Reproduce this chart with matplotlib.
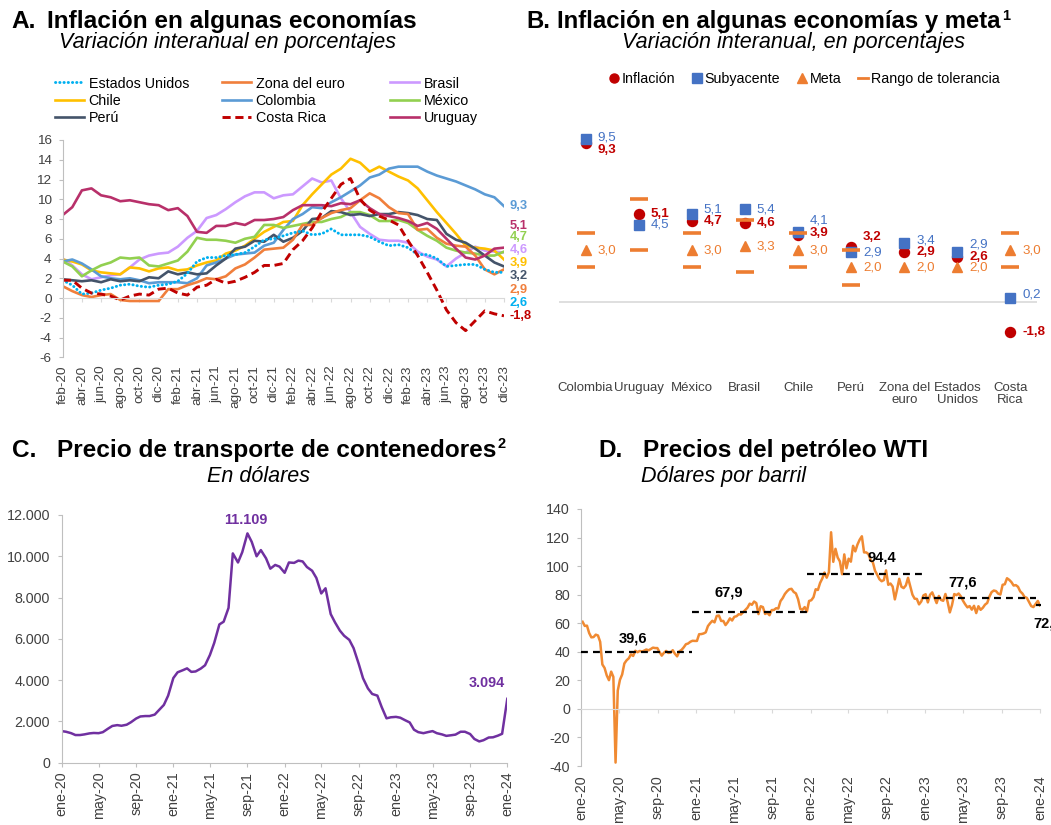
import numpy as np
import pandas as pd
import matplotlib
matplotlib.use('Agg')
import matplotlib.pyplot as plt
import matplotlib.transforms as mtransforms
from matplotlib.lines import Line2D
from decimal import Decimal, ROUND_HALF_UP

plt.rcParams['font.family'] = ['Liberation Sans', 'DejaVu Sans']
plt.rcParams['axes.unicode_minus'] = False

# ------------------------------------------------------------------ data
meses = ['ene', 'feb', 'mar', 'abr', 'may', 'jun', 'jul', 'ago', 'sep', 'oct', 'nov', 'dic']

# Panel A: monthly, feb-20 .. dic-23
a_start, a_end = '2020-02', '2023-12'
estados_unidos = [1.8, 1.3, 0.4, 0.5, 0.8, 1.0, 1.3, 1.4, 1.2, 1.1, 1.3,
                  1.4, 1.7, 2.5, 3.7, 4.1, 4.1, 4.3, 4.4, 4.6, 5.2, 5.9, 6.0,
                  6.3, 6.6, 6.8, 6.4, 6.5, 7.0, 6.4, 6.4, 6.4, 6.2, 5.7, 5.3,
                  5.4, 5.1, 4.4, 4.4, 4.0, 3.2, 3.3, 3.4, 3.4, 2.9, 2.6, 2.6]
zona_euro = [1.2, 0.7, 0.3, 0.1, 0.3, 0.4, -0.2, -0.3, -0.3, -0.3, -0.3,
             0.9, 0.9, 1.3, 1.6, 2.0, 1.9, 2.2, 3.0, 3.4, 4.1, 4.9, 5.0,
             5.1, 5.9, 7.4, 7.4, 8.1, 8.6, 8.9, 9.1, 9.9, 10.6, 10.1, 9.2,
             8.6, 8.5, 6.9, 7.0, 6.1, 5.5, 5.3, 5.2, 4.3, 2.9, 2.4, 2.9]
brasil = [4.0, 3.3, 2.4, 1.9, 2.1, 2.3, 2.4, 3.1, 3.9, 4.3, 4.5,
          4.6, 5.2, 6.1, 6.8, 8.1, 8.4, 9.0, 9.7, 10.3, 10.7, 10.7, 10.1,
          10.4, 10.5, 11.3, 12.1, 11.7, 11.9, 10.1, 8.7, 7.2, 6.5, 5.9, 5.8,
          5.8, 5.6, 4.7, 4.2, 3.9, 3.2, 4.0, 4.6, 5.2, 4.8, 4.7, 4.6]
chile = [3.9, 3.7, 3.4, 2.8, 2.6, 2.5, 2.4, 3.1, 3.0, 2.7, 3.0,
         3.1, 2.8, 2.9, 3.3, 3.6, 3.8, 4.5, 4.8, 5.3, 6.0, 6.7, 7.2,
         7.7, 7.8, 9.4, 10.5, 11.5, 12.5, 13.1, 14.1, 13.7, 12.8, 13.3, 12.8,
         12.3, 11.9, 11.1, 9.9, 8.7, 7.6, 6.5, 5.3, 5.1, 5.0, 4.8, 3.9]
colombia = [3.7, 3.9, 3.5, 2.9, 2.2, 2.0, 1.9, 2.0, 1.8, 1.5, 1.6,
            1.6, 1.6, 1.5, 2.0, 3.3, 3.6, 4.0, 4.4, 4.5, 4.6, 5.3, 5.6,
            6.9, 8.0, 8.5, 9.2, 9.1, 9.7, 10.2, 10.8, 11.4, 12.2, 12.5, 13.1,
            13.3, 13.3, 13.3, 12.8, 12.4, 12.1, 11.8, 11.4, 11.0, 10.5, 10.2, 9.3]
mexico = [3.7, 3.2, 2.2, 2.8, 3.3, 3.6, 4.1, 4.0, 4.1, 3.3, 3.2,
          3.5, 3.8, 4.7, 6.1, 5.9, 5.9, 5.8, 5.6, 6.0, 6.2, 7.4, 7.4,
          7.1, 7.3, 7.5, 7.7, 7.7, 8.0, 8.2, 8.7, 8.7, 8.4, 7.8, 7.8,
          7.9, 7.6, 6.9, 6.3, 5.8, 5.1, 4.8, 4.6, 4.5, 4.3, 4.3, 4.7]
peru = [1.9, 1.8, 1.7, 1.8, 1.6, 1.9, 1.7, 1.8, 1.7, 2.1, 2.0,
        2.7, 2.4, 2.6, 2.4, 2.5, 3.3, 4.0, 5.0, 5.2, 5.8, 5.7, 6.4,
        5.7, 6.1, 6.8, 8.0, 8.1, 8.8, 8.7, 8.4, 8.5, 8.3, 8.5, 8.5,
        8.7, 8.6, 8.4, 8.0, 7.9, 6.5, 5.9, 5.6, 5.0, 4.3, 3.6, 3.2]
costa_rica = [1.8, 1.8, 1.0, 0.5, 0.4, 0.2, -0.2, 0.2, 0.4, 0.3, 0.9,
              1.0, 0.5, 0.3, 1.1, 1.3, 1.9, 1.5, 1.7, 2.1, 2.6, 3.3, 3.3,
              3.5, 4.9, 5.8, 7.1, 8.7, 10.1, 11.5, 12.1, 10.0, 8.9, 8.3, 7.9,
              7.4, 5.8, 4.3, 2.6, 0.8, -1.2, -2.5, -3.3, -2.3, -1.3, -1.6, -1.8]
uruguay = [8.4, 9.2, 10.9, 11.1, 10.4, 10.2, 9.8, 9.9, 9.7, 9.5, 9.4,
           8.9, 9.1, 8.3, 6.7, 6.6, 7.3, 7.3, 7.6, 7.4, 7.9, 7.9, 8.0,
           8.2, 8.9, 9.4, 9.4, 9.4, 9.3, 9.6, 9.5, 9.9, 9.1, 8.5, 8.3,
           8.1, 7.8, 7.3, 7.6, 7.0, 6.0, 5.0, 4.1, 3.9, 4.3, 5.0, 5.1]

# Panel B
b_paises = ['Colombia', 'Uruguay', 'México', 'Brasil', 'Chile', 'Perú',
            'Zona del\neuro', 'Estados\nUnidos', 'Costa\nRica']
b_inflacion = [9.3, 5.1, 4.7, 4.6, 3.9, 3.2, 2.9, 2.6, -1.8]
b_subyacente = [9.5, 4.5, 5.1, 5.4, 4.1, 2.9, 3.4, 2.9, 0.2]
b_meta = [3.0, np.nan, 3.0, 3.25, 3.0, 2.0, 2.0, 2.0, 3.0]
b_rango_inf = [2.0, 3.0, 2.0, 1.75, 2.0, 1.0, np.nan, np.nan, 2.0]
b_rango_sup = [4.0, 6.0, 4.0, 4.75, 4.0, 3.0, np.nan, np.nan, 4.0]

# Panel C: container freight rate, semi-monthly, ene-20 .. ene-24
c_start, c_end = '2020-01-01', '2024-01-01'
c_precio = [1530, 1500, 1430, 1340, 1340, 1370, 1420, 1440, 1430, 1480,
            1650, 1780, 1820, 1790, 1840, 1960, 2140, 2240, 2260, 2260,
            2330, 2550, 2800, 3250, 4100, 4380, 4480, 4570, 4400, 4420,
            4560, 4720, 5220, 5800, 6700, 6830, 7500, 10140, 9700, 10200,
            11109, 10700, 10000, 10300, 9900, 9400, 9580, 9500, 9200, 9700,
            9680, 9790, 9750, 9480, 9300, 8950, 8200, 8450, 7200, 6800,
            6400, 6150, 5950, 5550, 4780, 4090, 3600, 3330, 3250, 2700,
            2150, 2200, 2220, 2180, 2050, 1950, 1600, 1480, 1430, 1480,
            1530, 1430, 1370, 1300, 1330, 1360, 1500, 1500, 1390, 1150,
            1030, 1090, 1220, 1230, 1310, 1400, 3094]

# Panel D: WTI, weekly (Mondays) from 2020-01-06
d_start = '2020-01-06'
wti = [61.0, 58.1, 58.3, 53.1,
       50.1, 50.3, 52.0, 51.4,
       47.0, 31.1, 28.7, 23.4, 20.1,
       26.1, 22.4, -37.6, 12.8,
       20.4, 24.1, 31.8, 34.0,
       35.4, 38.2, 37.1, 40.7, 39.7,
       40.6, 40.1, 40.8, 41.6,
       41.0, 41.9, 42.9, 42.6, 42.6,
       39.8, 37.3, 39.3, 40.6,
       39.2, 39.4, 41.1, 38.6,
       36.8, 40.3, 41.3, 43.1, 45.3,
       45.8, 47.0, 47.7, 47.6,
       # 2021
       47.6, 52.3, 52.4, 52.8,
       53.6, 58.0, 60.0, 61.7,
       60.6, 65.1, 65.4, 61.6, 61.6,
       58.7, 60.7, 63.4, 61.9,
       64.5, 64.9, 66.3, 66.1, 67.7,
       69.2, 70.9, 73.7, 72.9,
       75.2, 74.1, 66.4, 71.9,
       71.3, 66.5, 67.3, 65.6, 69.2,
       69.3, 70.5, 70.3, 75.5,
       77.6, 80.5, 82.4, 83.8,
       84.1, 81.9, 80.9, 76.8, 70.0,
       69.5, 71.3, 68.2, 75.6,
       # 2022
       76.1, 78.2, 83.8, 83.3, 88.2,
       91.3, 95.5, 91.9, 95.7,
       123.7, 103.0, 112.1, 106.0,
       103.3, 94.3, 108.2, 98.5,
       105.2, 103.1, 114.2, 110.3, 115.1,
       118.5, 120.9, 109.6, 109.6,
       108.4, 104.1, 102.6, 96.7,
       93.9, 90.8, 89.4, 90.2, 97.0,
       86.9, 87.8, 85.7, 76.7,
       83.6, 91.1, 85.5, 84.6, 86.5,
       91.8, 85.9, 80.0, 77.2,
       77.0, 73.2, 75.2, 79.5,
       # 2023
       80.3, 74.6, 79.9, 81.6, 77.9,
       74.1, 79.1, 76.3, 75.7,
       80.5, 74.8, 67.6, 72.8,
       80.4, 79.7, 80.8, 78.8,
       75.7, 73.2, 71.1, 72.0, 69.5,
       72.2, 67.1, 71.9, 69.4,
       70.8, 73.0, 74.2, 78.7, 81.8,
       82.9, 82.5, 80.7, 80.1,
       86.9, 87.3, 91.5, 90.4,
       88.8, 86.4, 86.7, 85.5, 82.3,
       80.8, 78.3, 77.8, 74.9,
       72.0, 71.3, 73.4, 75.6,
       # 2024
       72.5]
d_anios = [2020, 2021, 2022, 2023, 2024]
d_promedio = [39.6, 67.9, 94.4, 77.6, 72.7]

# ------------------------------------------------------------------ style
W, H, DPI = 1051, 825, 100
TICK_C = '#404040'
SPINE_C = '#BFBFBF'
ZERO_C = '#D9D9D9'
SUB_FS = 15.5

C_US = '#00B0F0'
C_EZ = '#F07F3C'
C_BR = '#CC99FF'
C_CL = '#FFC000'
C_CO = '#5B9BD5'
C_MX = '#92D050'
C_PE = '#44546A'
C_CR = '#C00000'
C_UY = '#B8306A'
C_RED = '#C00000'
C_BLUE = '#4472C4'
C_ORANGE = '#ED7D31'
C_PURPLE = '#7030A0'
C_WTI = '#F08A32'

US_LS = (0, (0.1, 1.35))
CR_LS = (0, (2.8, 1.6))

fig = plt.figure(figsize=(W / DPI, H / DPI), dpi=DPI)
renderer = fig.canvas.get_renderer()


def px_axes(l, t, r, b):
    return fig.add_axes([l / W, 1 - b / H, (r - l) / W, (b - t) / H])


def ftext(x, y, s, **kw):
    return fig.text(x / W, 1 - y / H, s, **kw)


def fmt1(v):
    d = Decimal(str(v)).quantize(Decimal('0.1'), rounding=ROUND_HALF_UP)
    return str(d).replace('.', ',')


def mes_label(ts):
    return f"{meses[ts.month - 1]}-{ts.year % 100:02d}"


# ------------------------------------------------------------------ titles
for (lx, tx, base, fs, letter, title, sup, sx, sbase, sub) in [
        (11, 47, 28.3, 17.6, 'A.', 'Inflación en algunas economías', '', 59.3, 48.3,
         'Variación interanual en porcentajes'),
        (526, 557, 28.3, 17.2, 'B.', 'Inflación en algunas economías y meta', '1', 622, 48.3,
         'Variación interanual, en porcentajes'),
        (11.7, 56.7, 456.7, 17.6, 'C.', 'Precio de transporte de contenedores', '2', 207.3, 481.7,
         'En dólares'),
        (598.3, 643.3, 456.7, 17.6, 'D.', 'Precios del petróleo WTI', '', 641, 481.7,
         'Dólares por barril')]:
    ftext(lx, base, letter, fontsize=fs, weight='bold', va='baseline')
    t = ftext(tx, base, title, fontsize=fs, weight='bold', va='baseline')
    if sup:
        bb = t.get_window_extent(renderer=renderer)
        ftext(bb.x1 + 1.5, base - 8.5, sup, fontsize=10.5, weight='bold', va='baseline')
    ftext(sx, sbase, sub, fontsize=SUB_FS, style='italic', va='baseline')

# ------------------------------------------------------------------ panel A
axa = px_axes(62.7, 140, 504, 357.3)
a_months = pd.period_range(a_start, a_end, freq='M')
xa = np.arange(len(a_months))
a_series = [
    ('Brasil', brasil, C_BR, '-'),
    ('Chile', chile, C_CL, '-'),
    ('Colombia', colombia, C_CO, '-'),
    ('México', mexico, C_MX, '-'),
    ('Perú', peru, C_PE, '-'),
    ('Zona del euro', zona_euro, C_EZ, '-'),
    ('Uruguay', uruguay, C_UY, '-'),
    ('Estados Unidos', estados_unidos, C_US, US_LS),
    ('Costa Rica', costa_rica, C_CR, CR_LS),
]
a_style = {}
for name, vals, col, ls in a_series:
    lw = 2.1 if name in ('Estados Unidos', 'Costa Rica') else 1.9
    cap = 'round' if name == 'Estados Unidos' else 'butt'
    axa.plot(xa, vals, color=col, ls=ls, lw=lw, dash_capstyle=cap)
    a_style[name] = dict(color=col, ls=ls, lw=lw, dash_capstyle=cap)

axa.spines['bottom'].set_position(('data', 0))
axa.set_xlim(0, len(xa) - 1)
axa.set_ylim(-6, 16)
axa.set_yticks(np.arange(-6, 17, 2))
axa.spines[['top', 'right']].set_visible(False)
axa.spines['left'].set_color(SPINE_C)
axa.spines['bottom'].set_color(ZERO_C)
axa.set_xticks(xa[::2])
axa.set_xticklabels([mes_label(p) for p in a_months[::2]], rotation=90)
axa.tick_params(axis='x', length=3, color=ZERO_C, pad=45.5, labelsize=9.7,
                labelcolor=TICK_C)
axa.tick_params(axis='y', length=3, color=SPINE_C, pad=5, labelsize=9.7,
                labelcolor=TICK_C)

# end labels
a_end_names = ['Colombia', 'Uruguay', 'México', 'Brasil', 'Chile', 'Perú',
               'Zona del euro', 'Estados Unidos', 'Costa Rica']
a_end_label_y = [9.35, 7.25, 6.2, 4.9, 3.55, 2.2, 0.85, -0.5, -1.85]
a_lookup = {n: (v, c) for n, v, c, _ in a_series}
for name, ly in zip(a_end_names, a_end_label_y):
    vals, col = a_lookup[name]
    axa.annotate(fmt1(vals[-1]), xy=(xa[-1], ly), xytext=(4.3, 0),
                 textcoords='offset points', ha='left', va='center',
                 fontsize=9.3, weight='bold', color=col, annotation_clip=False)

# legend A, three columns
leg_cols = [(55, ['Estados Unidos', 'Chile', 'Perú']),
            (222, ['Zona del euro', 'Colombia', 'Costa Rica']),
            (390, ['Brasil', 'México', 'Uruguay'])]
for lx, names in leg_cols:
    hs = [Line2D([], [], **a_style[n]) for n in names]
    fig.legend(hs, names, loc='upper left', bbox_to_anchor=(lx / W, 1 - 76.5 / H),
               frameon=False, fontsize=10.3, handlelength=2.0, handletextpad=0.35,
               labelspacing=0.24, borderpad=0, borderaxespad=0)

# ------------------------------------------------------------------ panel B
axb = px_axes(559, 105, 1037, 370)
xb = np.arange(len(b_paises))
axb.axhline(0, color=ZERO_C, lw=1.2, zorder=1)
axb.plot(xb, b_inflacion, 'o', color=C_RED, ms=7.2, zorder=3)
axb.plot(xb, b_subyacente, 's', color=C_BLUE, ms=7.3, zorder=4)
axb.plot(xb, b_meta, '^', color=C_ORANGE, ms=6.9, zorder=5)
axb.plot(xb, b_rango_inf, '_', color=C_ORANGE, ms=13, mew=2.6, zorder=6)
axb.plot(xb, b_rango_sup, '_', color=C_ORANGE, ms=13, mew=2.6, zorder=6)
axb.set_xlim(-0.5, len(xb) - 0.5)
axb.set_ylim(-4, 11.5)
for s in axb.spines.values():
    s.set_visible(False)
axb.set_yticks([])
axb.set_xticks(xb)
axb.set_xticklabels(b_paises, fontsize=9.5, color=TICK_C, linespacing=1.05)
axb.tick_params(axis='x', length=0, pad=8.5)

# label offsets (pixels, positive = up)
b_sub_dy = [2, 0, 4.5, 0, 11, 0, 3, 8, 4]
b_inf_dy = [-7, 0, 0, 0, 1.7, 10, 0, 0, 0]
for i in range(len(xb)):
    tr_s = mtransforms.offset_copy(axb.transData, fig=fig, x=12, y=b_sub_dy[i], units='dots')
    axb.text(xb[i], b_subyacente[i], fmt1(b_subyacente[i]), transform=tr_s,
             ha='left', va='center', fontsize=9.6, color=C_BLUE, zorder=7)
    tr_i = mtransforms.offset_copy(axb.transData, fig=fig, x=12, y=b_inf_dy[i], units='dots')
    axb.text(xb[i], b_inflacion[i], fmt1(b_inflacion[i]), transform=tr_i,
             ha='left', va='center', fontsize=9.6, color=C_RED, weight='bold', zorder=7)
    if not np.isnan(b_meta[i]):
        tr_m = mtransforms.offset_copy(axb.transData, fig=fig, x=12, y=0, units='dots')
        axb.text(xb[i], b_meta[i], fmt1(b_meta[i]), transform=tr_m,
                 ha='left', va='center', fontsize=9.6, color=C_ORANGE, zorder=7)

hb = [Line2D([], [], marker='o', ls='none', color=C_RED, ms=6.5),
      Line2D([], [], marker='s', ls='none', color=C_BLUE, ms=6.5),
      Line2D([], [], marker='^', ls='none', color=C_ORANGE, ms=6.5),
      Line2D([], [], color=C_ORANGE, lw=2)]
fig.legend(hb, ['Inflación', 'Subyacente', 'Meta', 'Rango de tolerancia'],
           loc='center left', bbox_to_anchor=(609 / W, 1 - 79 / H), ncol=4,
           frameon=False, fontsize=10.3, handlelength=0.7, handletextpad=0.2,
           columnspacing=1.15, borderpad=0, borderaxespad=0)

# ------------------------------------------------------------------ panel C
axc = px_axes(61.7, 515, 507.3, 762.7)
c_dates = pd.date_range(c_start, periods=len(c_precio), freq='SMS')
axc.plot(c_dates, c_precio, color=C_PURPLE, lw=1.8)
axc.set_xlim(pd.Timestamp(c_start), pd.Timestamp(c_end))
axc.set_ylim(0, 12000)
axc.set_yticks(np.arange(0, 12001, 2000))
axc.set_yticklabels([f"{v:,.0f}".replace(',', '.') for v in np.arange(0, 12001, 2000)])
c_ticks = pd.date_range(c_start, c_end, freq='4MS')
axc.set_xticks(c_ticks)
axc.set_xticklabels([mes_label(t) for t in c_ticks], rotation=90)
axc.spines[['top', 'right']].set_visible(False)
axc.spines['left'].set_color(SPINE_C)
axc.spines['bottom'].set_color(SPINE_C)
axc.tick_params(axis='x', length=3, color=SPINE_C, pad=3.5, labelsize=10.3,
                labelcolor=TICK_C)
axc.tick_params(axis='y', length=3, color=SPINE_C, pad=5.5, labelsize=10.3,
                labelcolor=TICK_C)
ipk = int(np.argmax(c_precio))
axc.annotate(f"{c_precio[ipk]:,.0f}".replace(',', '.'), xy=(c_dates[ipk], c_precio[ipk]),
             xytext=(-1.5, 10), textcoords='offset points', ha='center', va='center',
             fontsize=10.4, weight='bold', color=C_PURPLE, annotation_clip=False)
axc.annotate(f"{c_precio[-1]:,.0f}".replace(',', '.'), xy=(c_dates[-1], c_precio[-1]),
             xytext=(-14.5, 11.5), textcoords='offset points', ha='center', va='center',
             fontsize=10.4, weight='bold', color=C_PURPLE, annotation_clip=False)

# ------------------------------------------------------------------ panel D
axd = px_axes(581, 509, 1040, 766)
axd.spines['bottom'].set_position(('data', 0))
d_dates = pd.date_range(d_start, periods=len(wti), freq='7D')
d_xmin, d_xmax = pd.Timestamp('2020-01-01'), pd.Timestamp('2024-01-01')
axd.plot(d_dates, wti, color=C_WTI, lw=1.8, zorder=2)
for y, avg in zip(d_anios, d_promedio):
    st = max(d_xmin, pd.Timestamp(f'{y - 1}-12-20'))
    en = min(d_xmax + pd.Timedelta(days=4), pd.Timestamp(f'{y}-12-20'))
    axd.hlines(avg, st, en, colors='black', linestyles=(0, (3.1, 2.3)), lw=1.6,
               zorder=3, clip_on=False)
axd.set_xlim(d_xmin, d_xmax)
axd.set_ylim(-40, 140)
axd.set_yticks(np.arange(-40, 141, 20))
d_ticks = pd.date_range('2020-01-01', '2024-01-01', freq='4MS')
axd.set_xticks(d_ticks)
axd.set_xticklabels([mes_label(t) for t in d_ticks], rotation=90)
axd.spines[['top', 'right']].set_visible(False)
axd.spines['left'].set_color(SPINE_C)
axd.spines['bottom'].set_color(ZERO_C)
axd.tick_params(axis='x', length=3, color=ZERO_C, pad=45, labelsize=10.3,
                labelcolor=TICK_C)
axd.tick_params(axis='y', length=3, color=SPINE_C, pad=5, labelsize=10.3,
                labelcolor=TICK_C)
d_lab_fecha = ['2020-06-15', '2021-04-15', '2022-08-15', '2023-05-01', '2024-01-01']
d_lab_dy = [14, 19, 17, 16, -18]
for fecha, dy, avg in zip(d_lab_fecha, d_lab_dy, d_promedio):
    last = fecha == d_lab_fecha[-1]
    axd.annotate(fmt1(avg), xy=(pd.Timestamp(fecha), avg),
                 xytext=(-5 if last else 0, dy * 0.72), textcoords='offset points',
                 ha='left' if last else 'center', va='center', fontsize=10.5,
                 weight='bold', color='black', annotation_clip=False)

fig.savefig('out.png', dpi=DPI)
